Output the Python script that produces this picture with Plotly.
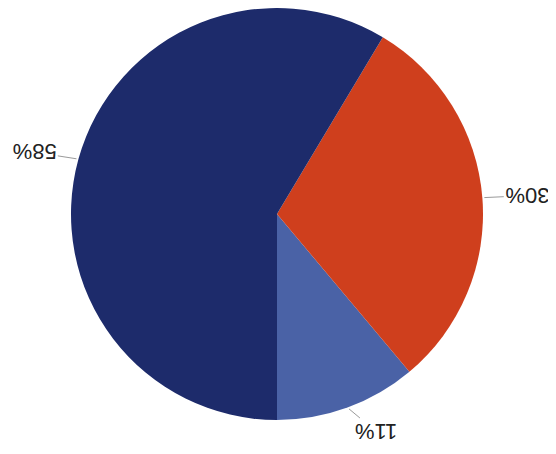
import math
import plotly.graph_objects as go

# slices listed counterclockwise starting from 6 o'clock (chart is scanned upside-down)
labels = ['11%', '30%', '58%']
values = [11, 30, 58]
colors = ['#4a62a6', '#cf3f1d', '#1d2b6b']

W, H = 556, 454
# pie centre / radius in figure pixels (page body adds an 8px margin)
cx, cy, R = 277 - 8, 206, 206

fig = go.Figure(go.Pie(
    labels=labels, values=values, sort=False, direction='counterclockwise', rotation=140,
    marker=dict(colors=colors, line=dict(width=0)), textinfo='none', hoverinfo='skip',
    domain=dict(x=[(cx - R) / W, (cx + R) / W],
                y=[max(0, 1 - (cy + R) / H), min(1, 1 - (cy - R) / H)]),
    showlegend=False))

# upside-down labels with short leader lines, placed from the slice mid-angles
total = sum(values)
cum = 0
for lab, v in zip(labels, values):
    a = math.radians(270 + 360 * (cum + v / 2) / total)
    cum += v
    ex, ey = math.cos(a), math.sin(a)
    dx = 24 * ex + 21 * (1 if ex > 0 else -1)
    dy = -26 * ey
    fig.add_annotation(x=(cx + R * ex) / W, y=1 - (cy - R * ey) / H, xref='paper', yref='paper',
                       text=lab, textangle=180, showarrow=True, arrowhead=0, arrowwidth=1,
                       arrowcolor='#9a9a9a', ax=dx, ay=dy, standoff=2,
                       font=dict(family='Liberation Sans, Arial', size=22, color='#222222'))

fig.update_layout(width=W, height=H, margin=dict(l=0, r=0, t=0, b=0),
                  paper_bgcolor='white', plot_bgcolor='white')
fig.write_html('out.html')
